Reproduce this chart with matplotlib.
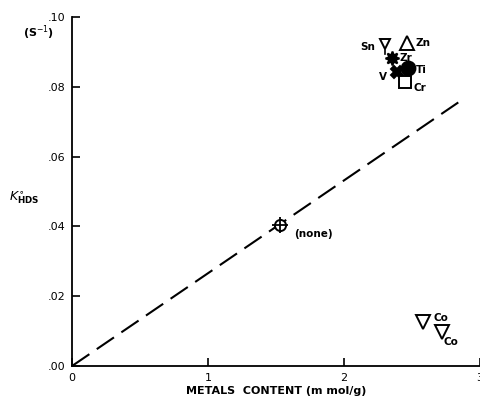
import matplotlib
matplotlib.use("Agg")
import matplotlib.pyplot as plt

# metal loading (mmol/g) and HDS rate constant (1/s) for each promoter
metals = ["(none)", "Sn", "Zn", "Zr", "Ti", "V", "Cr", "Co", "Co"]
content = [1.53, 2.30, 2.46, 2.35, 2.47, 2.39, 2.45, 2.58, 2.72]
k_hds = [0.0405, 0.0923, 0.0925, 0.0883, 0.0854, 0.0842, 0.0814, 0.0126, 0.0097]

# trend line through the origin
trend_x = [0.0, 2.84]
trend_y = [0.0, 0.0755]

xticks = [0, 1, 2, 3]
xticklabels = ["0", "1", "2", "3"]
yticks = [0.0, 0.02, 0.04, 0.06, 0.08, 0.10]
yticklabels = [".00", ".02", ".04", ".06", ".08", ".10"]

# marker style per point: (marker, filled, size)
styles = [
    ("o", False, 8),
    ("v", False, 7),
    ("^", False, 10),
    ((8, 1, 0), True, 10),
    ("o", True, 10),
    ("X", True, 8),
    ("s", False, 8),
    ("v", False, 10),
    ("v", False, 10),
]
# label offsets in pixels and alignment
offsets = [
    (14, -9, "left"),
    (-10, -3, "right"),
    (9, 0, "left"),
    (8, 0, "left"),
    (8, -2, "left"),
    (-10, -5, "right"),
    (8, -6, "left"),
    (11, 4, "left"),
    (2, -10, "left"),
]

fig = plt.figure(figsize=(4.81, 4.03), dpi=100)
ax = fig.add_axes([0.150, 0.092, 0.848, 0.866])

ax.plot(trend_x, trend_y, color="black", lw=1.5, dashes=[10, 4.3])

for name, x, y, st, off in zip(metals, content, k_hds, styles, offsets):
    mk, filled, ms = st
    ax.plot(x, y, marker=mk, ms=ms, mew=1.4, mec="black",
            mfc="black" if filled else "white", ls="none", zorder=3)
    if name == "(none)":
        ax.plot(x, y, marker="+", ms=12, mew=1.3, color="black", zorder=4)
    if name == "Sn":
        # short stem under the Sn marker
        ax.plot([x, x], [y - 0.003, y], color="black", lw=1.2, zorder=2)
    ax.annotate(name, (x, y), xytext=off[:2], textcoords="offset pixels",
                ha=off[2], va="center", fontsize=7.5, fontweight="bold")

ax.set_xlim(0, 3.0)
ax.set_ylim(0, 0.10)
ax.set_xticks(xticks)
ax.set_xticklabels(xticklabels)
ax.set_yticks(yticks)
ax.set_yticklabels(yticklabels)
ax.tick_params(direction="in", length=6, width=1.2, labelsize=8, pad=5)

for side in ["top", "right"]:
    ax.spines[side].set_visible(False)
for side in ["left", "bottom"]:
    ax.spines[side].set_linewidth(1.3)

ax.set_xlabel("METALS  CONTENT (m mol/g)", fontsize=8, fontweight="bold", labelpad=2)
fig.text(0.05, 0.51, r"$K^{\circ}_{\mathbf{HDS}}$", fontsize=9, ha="center", va="center")
fig.text(0.08, 0.918, r"(S$^{-1}$)", fontsize=8, fontweight="bold", ha="center", va="center")

fig.savefig("out.png", dpi=100)
